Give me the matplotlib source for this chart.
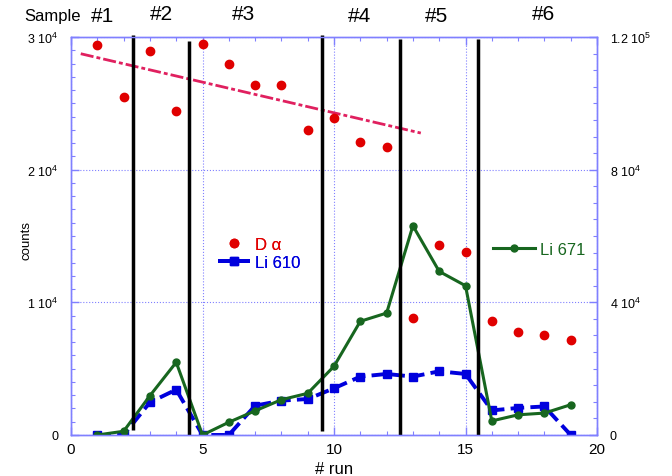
import matplotlib.pyplot as plt
from matplotlib.ticker import MultipleLocator, FixedLocator, FixedFormatter

plt.rcParams['font.family'] = ['Liberation Sans', 'DejaVu Sans']
plt.rcParams['mathtext.fontset'] = 'custom'
plt.rcParams['mathtext.rm'] = 'Liberation Sans'
plt.rcParams['mathtext.default'] = 'regular'

# data
runs = list(range(1, 20))
d_alpha = [29400, 25450, 28950, 24450, 29450, 27950, 26380, 26380, 22980, 23870,
           22060, 21680, 8820, 14300, 13790, 8590, 7790, 7510, 7180]
li_610 = [0, 0, 2460, 3420, 0, 0, 2210, 2590, 2710, 3520,
          4400, 4600, 4400, 4800, 4600, 1850, 2040, 2150, 0]
li_671 = [0, 280, 2960, 5480, 0, 960, 1820, 2660, 3140, 5180,
          8570, 9190, 15770, 12330, 11250, 1060, 1520, 1650, 2280]
fit_x = [0.37, 13.3]
fit_y = [28740, 22760]

# sample boundaries (x, bottom, top)
cut_x = [2.36, 4.49, 9.54, 12.5, 15.47]
cut_bottom = [380, 0, 300, 0, 0]
cut_top = [30150, 29700, 30150, 29850, 29850]

sample_names = ['#1', '#2', '#3', '#4', '#5', '#6']
sample_x = [1.18, 3.42, 6.54, 10.95, 13.88, 17.95]
sample_y = [1.053, 1.06, 1.06, 1.053, 1.053, 1.06]

left_ticks = [0, 1e4, 2e4, 3e4]
left_labels = ['0', r'1 10$^{4}$', r'2 10$^{4}$', r'3 10$^{4}$']
right_ticks = [0, 4e4, 8e4, 1.2e5]
right_labels = ['0', r'4 10$^{4}$', r'8 10$^{4}$', r'1.2 10$^{5}$']

frame = '#8080ff'
red = '#e00000'
blue = '#0000dd'
green = '#17661f'
pink = '#e0205f'

fig = plt.figure(figsize=(6.72, 4.77), dpi=100)
ax = fig.add_axes([0.1057, 0.086, 0.7827, 0.8343])
ax2 = ax.twinx()

ax.plot(fit_x, fit_y, color=pink, lw=2, dashes=(4.7, 1.1, 1.4, 1.1), zorder=2)
dots, = ax.plot(runs, d_alpha, 'o', color=red, ms=6, zorder=3, label='D α')
ln610, = ax.plot(runs, li_610, color=blue, lw=2.8, dashes=(3.5, 1.6),
                 marker='s', ms=5.5, zorder=3, label='Li 610')
ln671, = ax.plot(runs, li_671, color=green, lw=2.2, marker='o', ms=5,
                 zorder=4, label='Li 671')

for x, y0, y1 in zip(cut_x, cut_bottom, cut_top):
    ax.plot([x, x], [y0, y1], color='black', lw=2.5, zorder=5,
            solid_capstyle='butt', clip_on=False)

ax.set_xlim(0, 20)
ax.set_ylim(0, 3e4)
ax2.set_ylim(0, 1.2e5)

ax.xaxis.set_major_locator(MultipleLocator(5))
ax.xaxis.set_minor_locator(MultipleLocator(1))
ax.yaxis.set_major_locator(FixedLocator(left_ticks))
ax.yaxis.set_major_formatter(FixedFormatter(left_labels))
ax.yaxis.set_minor_locator(MultipleLocator(1000))
ax2.yaxis.set_major_locator(FixedLocator(right_ticks))
ax2.yaxis.set_major_formatter(FixedFormatter(right_labels))
ax2.yaxis.set_minor_locator(MultipleLocator(5000))

ax.tick_params(which='both', direction='in', top=True, right=False,
               color=frame)
ax.tick_params(which='major', length=6, width=1)
ax.tick_params(which='minor', length=3, width=0.8)
ax.tick_params(axis='y', pad=9, labelsize=9)
ax.tick_params(axis='x', pad=5, labelsize=11)
ax2.tick_params(which='both', direction='in', color=frame, labelsize=9, pad=9)
ax2.tick_params(which='major', length=6, width=1)
ax2.tick_params(which='minor', length=3, width=0.8)

for a in (ax, ax2):
    for s in a.spines.values():
        s.set_color(frame)
        s.set_linewidth(1)

ax.grid(which='major', ls=':', color=frame, lw=0.8)
ax.set_axisbelow(True)

ax.set_xlabel('# run', fontsize=12, labelpad=4)
ax.set_ylabel('counts', fontsize=9.5)
ax.yaxis.set_label_coords(-0.074, 0.49)

trans = ax.get_xaxis_transform()
for name, x, y in zip(sample_names, sample_x, sample_y):
    ax.text(x, y, name, transform=trans, fontsize=15, ha='center', va='center')
ax.text(-0.72, 1.053, 'Sample', transform=trans, fontsize=12,
        ha='center', va='center')

leg1 = ax.legend(handles=[dots, ln610], loc='upper left',
                 bbox_to_anchor=(218 / 672, (477 - 238) / 477),
                 bbox_transform=fig.transFigure, frameon=False, fontsize=12,
                 handlelength=1.9, handletextpad=0.3, borderpad=0,
                 borderaxespad=0, labelspacing=0.17, labelcolor=[red, blue])
ax.add_artist(leg1)
ax2.legend(handles=[ln671], loc='upper left',
           bbox_to_anchor=(493 / 672, (477 - 243) / 477),
           bbox_transform=fig.transFigure, frameon=False, fontsize=12,
           handlelength=2.5, handletextpad=0.3, borderpad=0,
           borderaxespad=0, labelcolor=[green])

fig.savefig('out.png', dpi=100)
